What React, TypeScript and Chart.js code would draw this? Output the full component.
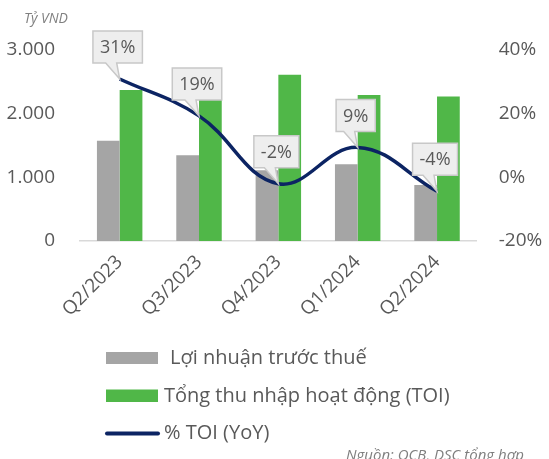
import React, { useEffect, useRef } from 'react';
import { Chart, registerables } from 'chart.js';

Chart.register(...registerables);

const categories = ['Q2/2023', 'Q3/2023', 'Q4/2023', 'Q1/2024', 'Q2/2024'];
const profitBeforeTax = [1573, 1348, 1110, 1206, 881];
const totalOperatingIncome = [2371, 2230, 2612, 2292, 2271];
const toiYoY = [30.9, 19.3, -2.0, 9.4, -4.4];
const leftTicks = [0, 1000, 2000, 3000];
const rightTicks = [-20, 0, 20, 40];
const seriesNames = ['Lợi nhuận trước thuế', 'Tổng thu nhập hoạt động (TOI)', '% TOI (YoY)'];
const unitLabel = 'Tỷ VND';
const sourceLabel = 'Nguồn: OCB, DSC tổng hợp';

const GRAY = '#a5a5a5';
const GREEN = '#50b748';
const NAVY = '#0c2463';
const TEXT = '#595959';
const FONT = '"Open Sans", "Noto Sans", sans-serif';

const fmtThousands = (v: number) => String(v).replace(/\B(?=(\d{3})+(?!\d))/g, '.');

const calloutPlugin = {
  id: 'callouts',
  afterDatasetsDraw(chart: any) {
    const ctx = chart.ctx;
    const meta = chart.getDatasetMeta(2);
    const data = chart.data.datasets[2].data as number[];
    ctx.save();
    ctx.font = `18px ${FONT}`;
    meta.data.forEach((pt: any, i: number) => {
      const text = `${Math.round(data[i])}%`;
      const tw = ctx.measureText(text).width;
      const w = tw + 14;
      const h = 32;
      const cx = pt.x - 2;
      const bottom = pt.y - 16;
      const top = bottom - h;
      const left = cx - w / 2;
      const right = cx + w / 2;
      ctx.beginPath();
      ctx.moveTo(left, top);
      ctx.lineTo(right, top);
      ctx.lineTo(right, bottom);
      ctx.lineTo(cx - 1, bottom);
      ctx.lineTo(pt.x, pt.y);
      ctx.lineTo(cx - 12, bottom);
      ctx.lineTo(left, bottom);
      ctx.closePath();
      ctx.fillStyle = '#eeeeee';
      ctx.fill();
      ctx.lineWidth = 1.5;
      ctx.strokeStyle = '#c8c8c8';
      ctx.stroke();
      ctx.fillStyle = TEXT;
      ctx.textAlign = 'center';
      ctx.textBaseline = 'middle';
      ctx.fillText(text, cx, top + h / 2 + 1);
    });
    ctx.restore();
  },
};

const decorPlugin = {
  id: 'decor',
  afterDraw(chart: any) {
    const ctx = chart.ctx;
    ctx.save();
    // unit label
    ctx.font = `italic 14px ${FONT}`;
    ctx.fillStyle = '#808080';
    ctx.textAlign = 'left';
    ctx.textBaseline = 'middle';
    ctx.fillText(unitLabel, 24, 19);

    // legend
    const lx = 106;
    const lw = 52;
    ctx.font = `20px ${FONT}`;
    ctx.fillStyle = GRAY;
    ctx.fillRect(lx, 352, lw, 12);
    ctx.fillStyle = TEXT;
    ctx.fillText(seriesNames[0], 170, 358);

    ctx.fillStyle = GREEN;
    ctx.fillRect(lx, 389.5, lw, 12.5);
    ctx.fillStyle = TEXT;
    ctx.fillText(seriesNames[1], 164, 396);

    ctx.strokeStyle = NAVY;
    ctx.lineWidth = 4;
    ctx.lineCap = 'round';
    ctx.beginPath();
    ctx.moveTo(lx + 1, 433.5);
    ctx.lineTo(lx + lw, 433.5);
    ctx.stroke();
    ctx.fillStyle = TEXT;
    ctx.fillText(seriesNames[2], 164, 433);

    // source
    ctx.font = `italic 15px ${FONT}`;
    ctx.fillStyle = '#7f7f7f';
    ctx.textBaseline = 'alphabetic';
    ctx.fillText(sourceLabel, 346, 460);
    ctx.restore();
  },
};

export default function App() {
  const canvasRef = useRef<HTMLCanvasElement | null>(null);

  useEffect(() => {
    document.body.style.margin = '0';
    const canvas = canvasRef.current;
    if (!canvas) return;
    const chart = new Chart(canvas, {
      type: 'bar',
      data: {
        labels: categories,
        datasets: [
          {
            type: 'bar',
            label: seriesNames[0],
            data: profitBeforeTax,
            backgroundColor: GRAY,
            yAxisID: 'y',
            order: 1,
            categoryPercentage: 0.573,
            barPercentage: 1,
          },
          {
            type: 'bar',
            label: seriesNames[1],
            data: totalOperatingIncome,
            backgroundColor: GREEN,
            yAxisID: 'y',
            order: 1,
            categoryPercentage: 0.573,
            barPercentage: 1,
          },
          {
            type: 'line',
            label: seriesNames[2],
            data: toiYoY,
            borderColor: NAVY,
            backgroundColor: NAVY,
            borderWidth: 3.5,
            tension: 0.4,
            pointRadius: 0,
            yAxisID: 'y1',
            order: 0,
          } as any,
        ],
      },
      options: {
        responsive: false,
        animation: false,
        layout: { padding: { top: 50, left: 0, right: 0, bottom: 0 } },
        plugins: {
          legend: { display: false },
          tooltip: { enabled: false },
          title: { display: false },
        },
        scales: {
          x: {
            grid: { display: false, drawTicks: false },
            border: { display: true, color: '#d9d9d9', width: 1.5 },
            ticks: {
              color: TEXT,
              font: { family: FONT, size: 19, lineHeight: 0.6 },
              minRotation: 45,
              maxRotation: 45,
              padding: 14,
            },
            afterFit(scale: any) {
              scale.height = 218;
            },
          },
          y: {
            position: 'left',
            min: leftTicks[0],
            max: leftTicks[leftTicks.length - 1],
            grid: { display: false, drawTicks: false },
            border: { display: false },
            ticks: {
              stepSize: 1000,
              color: TEXT,
              font: { family: FONT, size: 19 },
              padding: 25,
              callback: (v: any) => fmtThousands(Number(v)),
            },
            afterFit(scale: any) {
              scale.width = 80;
            },
          },
          y1: {
            position: 'right',
            min: rightTicks[0],
            max: rightTicks[rightTicks.length - 1],
            grid: { display: false, drawTicks: false },
            border: { display: false },
            ticks: {
              stepSize: 20,
              color: TEXT,
              font: { family: FONT, size: 19 },
              padding: 22,
              callback: (v: any) => `${v}%`,
            },
            afterFit(scale: any) {
              scale.width = 72.3;
            },
          },
        },
      } as any,
      plugins: [calloutPlugin, decorPlugin],
    });
    if ((document as any).fonts && (document as any).fonts.load) {
      Promise.all([
        (document as any).fonts.load(`19px "Open Sans"`),
        (document as any).fonts.load(`italic 14px "Open Sans"`),
      ]).then(() => chart.update()).catch(() => {});
    }
    return () => chart.destroy();
  }, []);

  return (
    <div style={{ position: 'fixed', left: 0, top: 0, width: 549, height: 459, background: '#fff' }}>
      <canvas ref={canvasRef} width={549} height={459} style={{ display: 'block' }} />
    </div>
  );
}
